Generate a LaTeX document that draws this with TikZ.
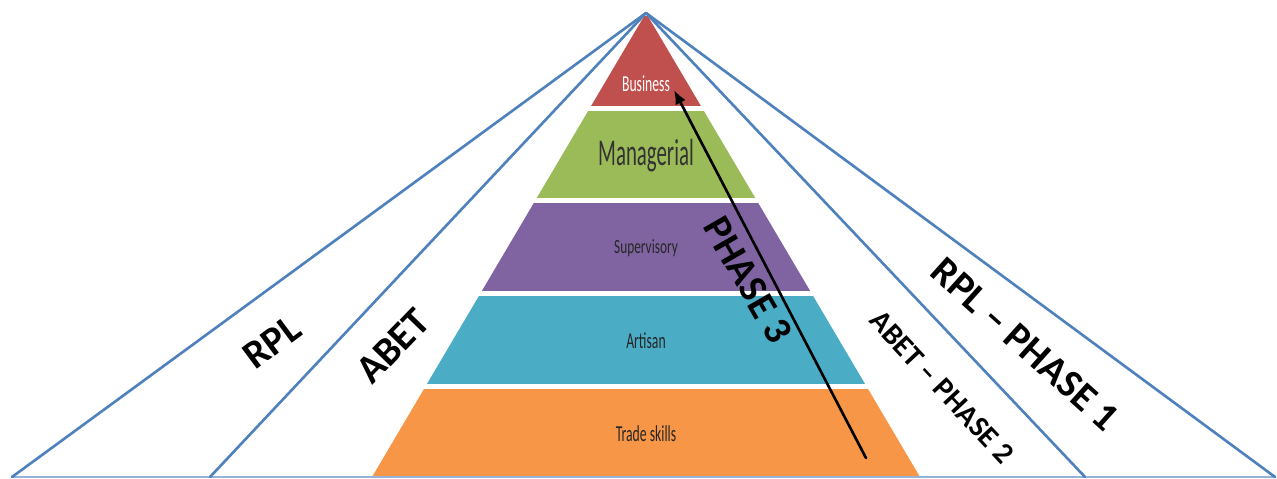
\documentclass[tikz,border=0pt]{standalone}
\usepackage{fontspec}
\setmainfont{Carlito}
\usepackage{xcolor}
\usepackage{tikz}
\usetikzlibrary{arrows,arrows.meta}
\usetikzlibrary{calc}
\definecolor{businessred}{HTML}{C0504D}
\definecolor{managergreen}{HTML}{9BBB59}
\definecolor{supervisorpurple}{HTML}{8064A2}
\definecolor{artisanteal}{HTML}{4BACC6}
\definecolor{tradeorange}{HTML}{F79646}
\definecolor{rayblue}{HTML}{4F81BD}

\begin{document}
\begin{tikzpicture}[x=0.02cm,y=-0.02cm]
              \tikzset{>={Latex[length=8pt,width=6.5pt]}}
              \tikzstyle{ray}=[rayblue,line width=1.5pt,line cap=round]
              \tikzstyle{phase}=[->,black,line width=1.5pt,line cap=round]
              \tikzstyle{zone}=[font=\bfseries\fontsize{22.7}{24}\selectfont,inner sep=0pt]
              \tikzstyle{subzone}=[font=\bfseries\fontsize{17}{19}\selectfont,inner sep=0pt]
              \tikzstyle{level}=[inner sep=0pt,xscale=0.6]

              \useasboundingbox (0,0) rectangle (1277,479);

              % CONSTANTS
              \coordinate (apex) at (646,13);
              \coordinate (baseL) at (372,477);
              \coordinate (baseR) at (920,477);
              \coordinate (rplL) at (12,477);
              \coordinate (abetL) at (210,477);
              \coordinate (abetR) at (1085,477);
              \coordinate (rplR) at (1275,477);

              % PYRAMID
              \begin{scope}
                \clip (apex) -- (baseL) -- (baseR) -- cycle;
                \foreach \top/\bot/\col in {16/106/businessred, 111/198/managergreen,
                    203/291/supervisorpurple, 296/384/artisanteal, 389/477/tradeorange}
                  \fill[\col] (300,\top) rectangle (1000,\bot);
              \end{scope}

              \node[level,text=white,font=\fontsize{13}{14}\selectfont] (business) at (646,84) {Business};
              \node[level,text=black!80,font=\fontsize{21.5}{23}\selectfont,xscale=0.92] (managerial) at (646,156) {Managerial};
              \node[level,text=black!85,font=\fontsize{11.5}{13}\selectfont,xscale=1.1] (supervisory) at (646,248) {Supervisory};
              \node[level,text=black!85,font=\fontsize{13}{14}\selectfont] (artisan) at (646,341) {Artisan};
              \node[level,text=black!85,font=\fontsize{13}{14}\selectfont] (trade) at (646,434) {Trade skills};

              % RAYS
              \draw[rayblue!60,line width=1pt] (rplL) -- (rplR);
              \foreach \foot in {rplL,abetL,abetR,rplR}
                \draw[ray] (apex) -- (\foot);

              % PHASE 3 ARROW
              \coordinate (arrowtail) at (866,458);
              \coordinate (arrowtip) at (674,90);
              \draw[phase] (arrowtail) -- (arrowtip);

              \node[zone,rotate=36.6] (rpl) at (272,342) {RPL};
              \node[zone,rotate=46] (abet) at (393,346) {ABET};
              \node[zone,rotate=-60] (phase3) at (748,280) {PHASE 3};
              \node[subzone,rotate=-47] (phase2) at (942,387) {ABET – PHASE 2};
              \node[zone,rotate=-42] (phase1) at (1025,344) {RPL – PHASE 1};
            \end{tikzpicture}
\end{document}
